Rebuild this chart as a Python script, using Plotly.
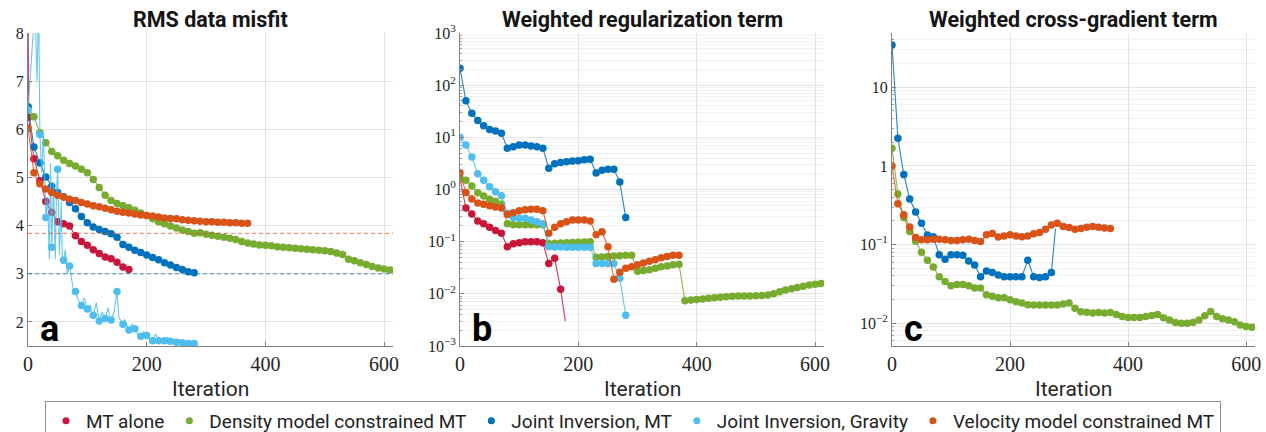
import plotly.graph_objects as go

W, H = 1266, 432

# ---------------------------------------------------------------- series names / colours
SERIES = ["MT alone", "Density model constrained MT", "Joint Inversion, MT",
          "Joint Inversion, Gravity", "Velocity model constrained MT"]
COLORS = {
    "MT alone": "#C8173A",
    "Density model constrained MT": "#77AC30",
    "Joint Inversion, MT": "#0072BD",
    "Joint Inversion, Gravity": "#4DBEEE",
    "Velocity model constrained MT": "#D95319",
}

# ---------------------------------------------------------------- (a) RMS data misfit
rms_mt_alone_iter = [0, 1] + list(range(10, 180, 10))
rms_mt_alone = [9.0, 6.25, 5.39, 4.93, 4.50, 4.28, 4.08, 4.04, 3.99, 3.79, 3.67, 3.59,
                3.50, 3.42, 3.35, 3.31, 3.24, 3.14, 3.09]

rms_density_iter = list(range(0, 620, 10))
rms_density = [6.47, 6.26, 5.93, 5.72, 5.54, 5.45, 5.36, 5.29, 5.24, 5.17,
               5.10, 4.96, 4.79, 4.63, 4.52, 4.46, 4.41, 4.37, 4.32, 4.26,
               4.21, 4.14, 4.08, 4.04, 3.99, 3.95, 3.91, 3.88, 3.84, 3.85,
               3.82, 3.80, 3.78, 3.76, 3.74, 3.71, 3.67, 3.64, 3.62, 3.60,
               3.59, 3.58, 3.56, 3.55, 3.54, 3.53, 3.52, 3.51, 3.50, 3.49,
               3.48, 3.46, 3.43, 3.40, 3.30, 3.27, 3.23, 3.19, 3.15, 3.12,
               3.10, 3.08]

rms_joint_mt_iter = list(range(0, 290, 10))
rms_joint_mt = [6.47, 5.63, 5.30, 5.01, 4.82, 4.69, 4.60, 4.48, 4.35, 4.19,
                4.06, 3.97, 3.92, 3.88, 3.83, 3.76, 3.61, 3.55, 3.49, 3.44,
                3.39, 3.34, 3.29, 3.23, 3.18, 3.13, 3.09, 3.04, 3.02]

rms_gravity_iter = list(range(0, 290, 10))
rms_gravity = [6.40, 8.80, 5.89, 4.17, 3.55, 5.17, 3.28, 3.16, 2.63, 2.34,
               2.27, 2.14, 2.02, 2.07, 2.04, 2.63, 1.95, 1.83, 1.86, 1.70,
               1.72, 1.61, 1.61, 1.61, 1.60, 1.58, 1.57, 1.55, 1.55]
# every logged gravity iterate (noisy trace behind the markers)
rms_gravity_trace_iter = [0, 5, 12, 15, 18, 20, 23, 26, 30, 33, 36, 38, 40, 43, 46, 48,
                          50, 53, 56, 58, 60, 63, 66, 70, 73, 76, 80, 85, 90, 95, 100,
                          105, 108, 110, 115, 118, 120, 125, 130, 135, 138, 140, 145,
                          150, 153, 160, 163, 170, 175, 180, 185, 190, 195, 200, 205,
                          210, 215, 220, 230, 235, 240, 250, 255, 260, 270, 280]
rms_gravity_trace = [6.40, 7.20, 8.60, 7.00, 8.60, 5.89, 5.10, 5.90, 4.17, 4.60, 3.30,
                     5.30, 3.55, 4.90, 3.30, 4.70, 5.17, 3.40, 4.50, 3.20, 3.28, 3.50,
                     3.00, 3.16, 2.90, 2.70, 2.63, 2.45, 2.34, 2.50, 2.27, 2.35, 2.10,
                     2.14, 2.40, 2.10, 2.02, 2.20, 2.07, 2.30, 2.00, 2.04, 2.20, 2.63,
                     2.10, 1.95, 2.05, 1.83, 1.95, 1.86, 1.75, 1.70, 1.80, 1.72, 1.65,
                     1.61, 1.75, 1.61, 1.61, 1.68, 1.60, 1.58, 1.62, 1.57, 1.55, 1.55]

rms_velocity_iter = list(range(0, 380, 10))
rms_velocity = [6.02, 5.10, 4.87, 4.76, 4.69, 4.63, 4.59, 4.55, 4.52, 4.48,
                4.45, 4.41, 4.39, 4.36, 4.33, 4.30, 4.28, 4.26, 4.24, 4.22,
                4.21, 4.20, 4.18, 4.16, 4.15, 4.14, 4.12, 4.11, 4.10, 4.09,
                4.08, 4.08, 4.07, 4.07, 4.06, 4.06, 4.05, 4.05]

rms_target_velocity = 3.84
rms_target_joint = 3.0

# ---------------------------------------------------------------- (b) weighted regularization term
reg_mt_alone_iter = list(range(0, 180, 10))
reg_mt_alone = [1.6, 0.44, 0.34, 0.25, 0.22, 0.19, 0.163, 0.145, 0.080, 0.091,
                0.095, 0.10, 0.10, 0.10, 0.095, 0.038, 0.048, 0.0123]
reg_mt_alone_end = (178, 0.003)

reg_density_iter = list(range(0, 620, 10))
reg_density = [1.6, 1.5, 1.17, 0.87, 0.75, 0.65, 0.59, 0.53,
               0.22, 0.21, 0.21, 0.21, 0.21, 0.21, 0.21,
               0.092, 0.093, 0.094, 0.095, 0.096, 0.097, 0.098, 0.100,
               0.050, 0.051, 0.052, 0.053, 0.054, 0.055, 0.055,
               0.027, 0.028, 0.029, 0.031, 0.033, 0.034, 0.036, 0.037,
               0.0074, 0.0076, 0.0078, 0.0080, 0.0082, 0.0084, 0.0086, 0.0088,
               0.0090, 0.0091, 0.0091, 0.0091, 0.0092, 0.0093, 0.0095, 0.0100,
               0.0110, 0.0118, 0.0125, 0.0132, 0.0140, 0.0147, 0.0153, 0.0158]

reg_joint_mt_iter = list(range(0, 290, 10))
reg_joint_mt = [210, 50, 29, 21, 16.6, 14.2, 13.2, 12.0,
                6.2, 6.6, 7.1, 7.1, 6.8, 6.6, 6.2,
                2.55, 3.1, 3.3, 3.4, 3.5, 3.55, 3.7, 3.8,
                2.08, 2.33, 2.45, 2.45, 1.4, 0.29]

reg_gravity_iter = list(range(0, 290, 10))
reg_gravity = [10, 7.1, 4.2, 2.0, 1.5, 1.13, 0.91, 0.76,
               0.35, 0.29, 0.28, 0.28, 0.26, 0.24, 0.22,
               0.080, 0.079, 0.079, 0.078, 0.078, 0.078, 0.078, 0.078,
               0.038, 0.038, 0.038, 0.038, 0.020, 0.0039]

reg_velocity_iter = list(range(0, 380, 10))
reg_velocity = [2.1, 0.88, 0.66, 0.55, 0.52, 0.49, 0.46, 0.44,
                0.33, 0.36, 0.39, 0.41, 0.42, 0.42, 0.39,
                0.145, 0.19, 0.22, 0.24, 0.26, 0.26, 0.26, 0.25,
                0.135, 0.155, 0.080, 0.019, 0.026, 0.031, 0.033,
                0.036, 0.039, 0.042, 0.045, 0.049, 0.052, 0.055, 0.055]

# ---------------------------------------------------------------- (c) weighted cross-gradient term
xg_density_iter = list(range(0, 620, 10))
xg_density = [1.68, 0.44, 0.22, 0.147, 0.11, 0.080, 0.063, 0.052, 0.039, 0.034,
              0.030, 0.031, 0.031, 0.030, 0.028, 0.028, 0.023, 0.022, 0.021, 0.021,
              0.0198, 0.0188, 0.018, 0.0172, 0.017, 0.017, 0.017, 0.017, 0.017, 0.0175,
              0.018, 0.0155, 0.014, 0.0138, 0.0135, 0.0137, 0.0135, 0.0137, 0.0129, 0.0122,
              0.0118, 0.0118, 0.0118, 0.0122, 0.0125, 0.0129, 0.0117, 0.0110, 0.0102, 0.0100,
              0.0100, 0.0102, 0.0110, 0.0124, 0.0141, 0.0122, 0.0114, 0.0110, 0.0104, 0.0095,
              0.0091, 0.0089]

xg_joint_iter = list(range(0, 280, 10))
xg_joint = [34.5, 2.24, 0.78, 0.38, 0.26, 0.187, 0.132, 0.126, 0.074, 0.065,
            0.074, 0.074, 0.073, 0.062, 0.055, 0.039, 0.046, 0.044, 0.041, 0.039,
            0.039, 0.039, 0.039, 0.063, 0.039, 0.038, 0.039, 0.044]
xg_joint_end = (277, 0.16)

xg_velocity_iter = list(range(0, 380, 10))
xg_velocity = [1.0, 0.33, 0.24, 0.167, 0.123, 0.115, 0.115, 0.117, 0.117, 0.115,
               0.113, 0.113, 0.115, 0.117, 0.113, 0.109, 0.133, 0.138, 0.125, 0.128,
               0.133, 0.128, 0.126, 0.128, 0.137, 0.142, 0.157, 0.177, 0.187, 0.170,
               0.165, 0.157, 0.160, 0.166, 0.170, 0.166, 0.162, 0.160]

# ---------------------------------------------------------------- layout geometry (pixels)
PLOT_TOP, PLOT_BOTTOM = 33, 346
PANELS_X = [(28, 393), (460, 824), (892, 1255)]
X_MAX = 615


def px_x(p):
    return p / W


def px_y(p):
    return 1 - p / H


fig = go.Figure()

LINE_W = 1.1
MARKER_SIZE = 7.5


def add_series(name, x, y, axis, line_x=None, line_y=None):
    """Thin connecting line plus sampled markers for one series on one panel."""
    xs = "x" if axis == 1 else f"x{axis}"
    ys = "y" if axis == 1 else f"y{axis}"
    c = COLORS[name]
    fig.add_trace(go.Scatter(
        x=line_x if line_x is not None else x,
        y=line_y if line_y is not None else y,
        mode="lines", line=dict(color=c, width=LINE_W), opacity=0.85,
        xaxis=xs, yaxis=ys, showlegend=False, hoverinfo="skip"))
    fig.add_trace(go.Scatter(
        x=x, y=y, mode="markers",
        marker=dict(color=c, size=MARKER_SIZE, line=dict(width=0)),
        xaxis=xs, yaxis=ys, showlegend=False, name=name))


# panel a
add_series("MT alone", rms_mt_alone_iter, rms_mt_alone, 1)
add_series("Density model constrained MT", rms_density_iter, rms_density, 1)
add_series("Joint Inversion, MT", rms_joint_mt_iter, rms_joint_mt, 1)
add_series("Joint Inversion, Gravity", rms_gravity_iter, rms_gravity, 1,
           rms_gravity_trace_iter, rms_gravity_trace)
add_series("Velocity model constrained MT", rms_velocity_iter, rms_velocity, 1)

# panel b
add_series("MT alone", reg_mt_alone_iter, reg_mt_alone, 2,
           reg_mt_alone_iter + [reg_mt_alone_end[0]], reg_mt_alone + [reg_mt_alone_end[1]])
add_series("Density model constrained MT", reg_density_iter, reg_density, 2)
add_series("Joint Inversion, MT", reg_joint_mt_iter, reg_joint_mt, 2)
add_series("Joint Inversion, Gravity", reg_gravity_iter, reg_gravity, 2)
add_series("Velocity model constrained MT", reg_velocity_iter, reg_velocity, 2)

# panel c
add_series("Density model constrained MT", xg_density_iter, xg_density, 3)
add_series("Joint Inversion, MT", xg_joint_iter, xg_joint, 3,
           xg_joint_iter + [xg_joint_end[0]], xg_joint + [xg_joint_end[1]])
add_series("Velocity model constrained MT", xg_velocity_iter, xg_velocity, 3)

# legend entries (dot only)
for name in SERIES:
    fig.add_trace(go.Scatter(x=[None], y=[None], mode="markers", name=name,
                             marker=dict(color=COLORS[name], size=7)))

# target misfit levels
for val, name in [(rms_target_velocity, "Velocity model constrained MT"),
                  (rms_target_joint, "Joint Inversion, MT")]:
    fig.add_shape(type="line", xref="x domain", yref="y", x0=0, x1=1, y0=val, y1=val,
                  line=dict(color=COLORS[name], width=1, dash="4px,3px"), opacity=0.75,
                  layer="above")

# ---------------------------------------------------------------- axes
SERIF = "Liberation Serif"
SANS = "Roboto"
TICK_FONT_X = dict(family=SERIF, size=20, color="#262626")
TICK_FONT_Y = dict(family=SERIF, size=16, color="#262626")
GRID = "#e3e3e3"
AXIS_LINE = "#808080"

y_dom = [px_y(PLOT_BOTTOM), px_y(PLOT_TOP)]

x_axes = {}
for i, (x0, x1) in enumerate(PANELS_X, start=1):
    key = "xaxis" if i == 1 else f"xaxis{i}"
    x_axes[key] = go.layout.XAxis(
        domain=[px_x(x0), px_x(x1)], range=[0, X_MAX], anchor="y" if i == 1 else f"y{i}",
        tickmode="array", tickvals=[0, 200, 400, 600], ticktext=["0", "200", "400", "600"],
        showgrid=True, gridcolor=GRID, gridwidth=1, zeroline=False,
        showline=True, linecolor=AXIS_LINE, linewidth=1, automargin=False,
        ticks="inside", ticklen=4, tickcolor=AXIS_LINE,
        tickfont=go.layout.xaxis.Tickfont(**TICK_FONT_X))

minor_b = [k * 10.0 ** e for e in range(-3, 3) for k in range(2, 10)]
minor_c = [k * 10.0 ** e for e in range(-3, 2) for k in range(2, 10)]

common_y = dict(domain=y_dom, showgrid=True, gridcolor=GRID, gridwidth=1, zeroline=False,
                showline=True, linecolor=AXIS_LINE, linewidth=1, automargin=False,
                ticks="inside", ticklen=4, tickcolor=AXIS_LINE, tickmode="array",
                tickfont=go.layout.yaxis.Tickfont(**TICK_FONT_Y))

y_axes = dict(
    yaxis=go.layout.YAxis(common_y, anchor="x", range=[1.5, 8],
                          tickvals=[2, 3, 4, 5, 6, 7, 8],
                          ticktext=["2", "3", "4", "5", "6", "7", "8"]),
    yaxis2=go.layout.YAxis(common_y, anchor="x2", type="log", range=[-3, 3],
                           tickvals=[1e-3, 1e-2, 1e-1, 1, 10, 100, 1000],
                           ticktext=["10<sup>−3</sup>", "10<sup>−2</sup>", "10<sup>−1</sup>",
                                     "10<sup>0</sup>", "10<sup>1</sup>", "10<sup>2</sup>",
                                     "10<sup>3</sup>"],
                           minor=dict(tickvals=minor_b, showgrid=True, gridcolor="#f1f1f1",
                                      ticks="inside", ticklen=2, tickcolor="#a0a0a0")),
    yaxis3=go.layout.YAxis(common_y, anchor="x3", type="log", range=[-2.29, 1.69],
                           tickvals=[1e-2, 1e-1, 1, 10],
                           ticktext=["10<sup>−2</sup>", "10<sup>−1</sup>", "1", "10"],
                           minor=dict(tickvals=minor_c, showgrid=True, gridcolor="#f1f1f1",
                                      ticks="inside", ticklen=2, tickcolor="#a0a0a0")),
)

# ---------------------------------------------------------------- titles, labels, panel letters
titles = ["RMS data misfit", "Weighted regularization term", "Weighted cross-gradient term"]
letters = ["a", "b", "c"]
annotations = []
for (x0, x1), t, l in zip(PANELS_X, titles, letters):
    cx = px_x((x0 + x1) / 2)
    annotations.append(dict(text=f"<b>{t}</b>", x=cx, y=px_y(19.5), xref="paper", yref="paper",
                            xanchor="center", yanchor="middle", showarrow=False,
                            font=dict(family=SANS, size=21.5, color="#141414")))
    annotations.append(dict(text="Iteration", x=cx, y=px_y(389), xref="paper", yref="paper",
                            xanchor="center", yanchor="middle", showarrow=False,
                            font=dict(family=SANS, size=21, color="#262626")))
    annotations.append(dict(text=f"<b>{l}</b>", x=px_x(x0 + 10), y=px_y(352), xref="paper",
                            yref="paper", xanchor="left", yanchor="bottom", showarrow=False,
                            font=dict(family=SANS, size=36, color="#000000")))

fig.update_layout(
    template="simple_white",
    width=W, height=H, margin=dict(l=0, r=0, t=0, b=0, autoexpand=False),
    paper_bgcolor="white", plot_bgcolor="white",
    font=dict(family=SERIF, size=16, color="#262626"),
    annotations=annotations,
    showlegend=True,
    legend=dict(orientation="h", x=0.5, xanchor="center", y=px_y(401), yanchor="top",
                bordercolor="#8c8c8c", borderwidth=1, bgcolor="white",
                font=dict(family=SANS, size=19, color="#222222"),
                itemwidth=30, tracegroupgap=0),
    **x_axes, **y_axes,
)

fig.write_html("out.html")
